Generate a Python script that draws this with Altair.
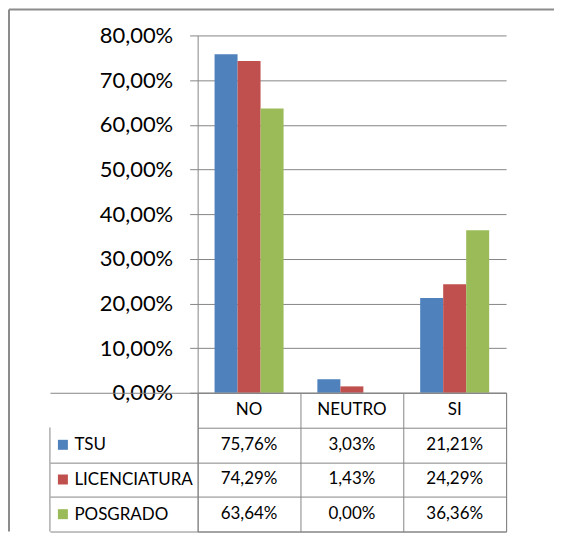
import altair as alt
import pandas as pd

categories = ["NO", "NEUTRO", "SI"]
series = ["TSU", "LICENCIATURA", "POSGRADO"]
tsu = [0.7576, 0.0303, 0.2121]
licenciatura = [0.7429, 0.0143, 0.2429]
posgrado = [0.6364, 0.0000, 0.3636]
colors = ["#4F81BD", "#C0504D", "#9BBB59"]
y_ticks = [0, 0.1, 0.2, 0.3, 0.4, 0.5, 0.6, 0.7, 0.8]

GRAY = "#868686"
HEADER = "_h"
W, H = 309, 358
TH = 139
ROW = TH / 4

rows = []
for s, vals in zip(series, [tsu, licenciatura, posgrado]):
    for c, v in zip(categories, vals):
        rows.append({"category": c, "series": s, "value": v,
                     "label": f"{v * 100:.2f}%".replace(".", ",")})
df = pd.DataFrame(rows)
header = pd.DataFrame({"category": categories, "series": [HEADER] * 3, "label": categories})
table_df = pd.concat([header, df[["category", "series", "label"]]], ignore_index=True)
legend_df = pd.DataFrame({"series": series})

color = alt.Color("series:N", scale=alt.Scale(domain=series, range=colors), legend=None)
xcat = alt.X("category:N", sort=categories, scale=alt.Scale(paddingInner=0, paddingOuter=0), title=None)

bars = alt.Chart(df).mark_bar().encode(
    x=xcat.axis(None),
    xOffset=alt.XOffset("series:N", sort=series, scale=alt.Scale(paddingOuter=0.735, paddingInner=0)),
    y=alt.Y("value:Q", scale=alt.Scale(domain=[0, 0.8]), title=None,
            axis=alt.Axis(values=y_ticks, labelExpr="replace(format(datum.value, '.2%'), '.', ',')",
                          grid=True, gridColor=GRAY, domainColor=GRAY, tickColor=GRAY, tickSize=8,
                          labelPadding=17, labelFontSize=22, labelColor="#000000", labelFont="Lato")),
    color=color,
)

frame_src = pd.DataFrame({"a": [0]})
frame_top = alt.Chart(frame_src).mark_rule(color="#8c8c8c", strokeWidth=2).encode(
    x=alt.value(-189), x2=alt.value(W + 48), y=alt.value(-26))
frame_left = alt.Chart(frame_src).mark_rule(color="#8c8c8c", strokeWidth=2).encode(
    x=alt.value(-189), y=alt.value(-26), y2=alt.value(H + TH))

top = alt.layer(bars, frame_top, frame_left).properties(width=W, height=H)

yrow = alt.Y("series:N", sort=[HEADER] + series, scale=alt.Scale(domain=[HEADER] + series, paddingInner=0, paddingOuter=0),
             title=None,
             axis=alt.Axis(grid=True, gridColor=GRAY, tickBand="extent", tickSize=148,
                           tickColor={"condition": {"test": f"datum.value == '{HEADER}'", "value": "transparent"}, "value": GRAY},
                           domain=False, labelAlign="left", labelPadding=-24,
                           labelExpr=f"datum.value == '{HEADER}' ? '' : datum.value",
                           labelFontSize=17, labelColor="#000000", labelFont="Lato", labelLimit=300))

text = alt.Chart(table_df).mark_text(fontSize=17, font="Lato", color="#000000", baseline="middle").encode(
    x=xcat.axis(alt.Axis(grid=True, gridColor=GRAY, tickBand="extent", labels=False, ticks=False, domain=False)),
    y=yrow,
    text="label:N",
)
squares = alt.Chart(legend_df).mark_square(size=100, opacity=1).encode(
    x=alt.value(-135), y=yrow, color=color)
left_border = alt.Chart(frame_src).mark_rule(color=GRAY).encode(
    x=alt.value(-148), y=alt.value(ROW), y2=alt.value(TH))

table = alt.layer(text, squares, left_border).properties(
    width=W, height=TH, view=alt.ViewBackground(stroke=GRAY, strokeWidth=1))

chart = alt.vconcat(top, table, spacing=0, bounds="flush").properties(padding=0).configure(
    font="Lato").configure_view(strokeWidth=0)

chart.save("out.html", embed_options={"renderer": "svg", "actions": False})
